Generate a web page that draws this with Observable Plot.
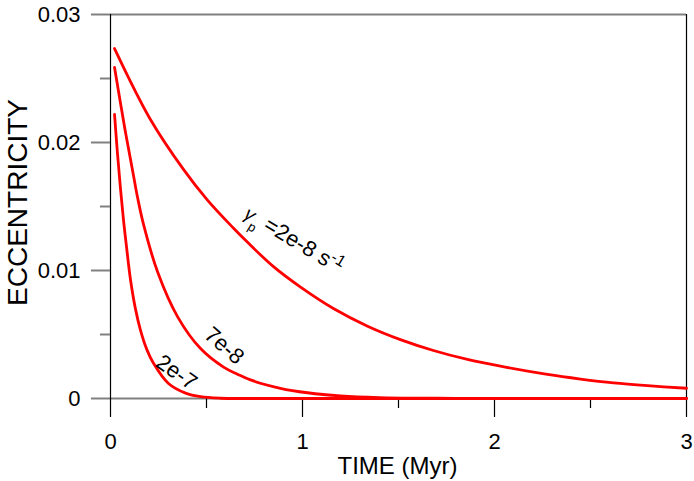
<!DOCTYPE html>
<html>
<head>
<meta charset="utf-8">
<script src="https://cdn.jsdelivr.net/npm/d3@7"></script>
<script src="https://cdn.jsdelivr.net/npm/@observablehq/plot@0.6"></script>
<style>
  html, body { margin: 0; padding: 0; background: #fff; }
  #chart { width: 694px; height: 481px; }
</style>
</head>
<body>
<div id="chart"></div>
<script>
// Curve for gamma_p = 2e-8 s^-1
const t1 = [0.021, 0.208, 0.380, 0.505, 0.641, 0.714, 0.849, 0.990, 1.161, 1.339, 1.510, 1.682, 1.859, 2.031, 2.276, 2.448, 2.620, 2.797, 3.0];
const e1 = [0.02734, 0.02180, 0.01790, 0.01550, 0.01330, 0.01220, 0.01030, 0.00870, 0.00703, 0.00565, 0.00460, 0.00375, 0.00305, 0.00252, 0.00188, 0.00152, 0.00122, 0.00100, 0.00080];
// Curve for 7e-8
const t2 = [0.021, 0.078, 0.120, 0.141, 0.172, 0.245, 0.349, 0.469, 0.589, 0.661, 0.729, 0.885, 1.026, 1.198, 1.4, 1.7, 2.0, 3.0];
const e2 = [0.02586, 0.02080, 0.01740, 0.01570, 0.01360, 0.00990, 0.00640, 0.00390, 0.00245, 0.00190, 0.00145, 0.00080, 0.00045, 0.00020, 0.00007, 0.00002, 0, 0];
// Curve for 2e-7
const t3 = [0.021, 0.036, 0.052, 0.068, 0.083, 0.104, 0.130, 0.156, 0.190, 0.224, 0.302, 0.391, 0.469, 0.573, 0.7, 1.0, 2.0, 3.0];
const e3 = [0.02219, 0.01920, 0.01640, 0.01390, 0.01190, 0.00930, 0.00700, 0.00535, 0.00380, 0.00275, 0.00117, 0.00042, 0.00014, 0.00002, 0, 0, 0, 0];

const seriesNames = ["2e-8", "7e-8", "2e-7"];
const labelText = ["γp=2e-8 s -1", "7e-8", "2e-7"];
const labelT = [0.955, 0.593, 0.344];
const labelE = [0.01240, 0.00412, 0.00205];
const labelAngle = [31, 41, 35];

const xMajor = [0, 1, 2, 3];
const xMinor = [0.5, 1.5, 2.5];
const yMajor = [0, 0.01, 0.02, 0.03];
const yMinor = [0.005, 0.015, 0.025];

const curves = [[t1, e1], [t2, e2], [t3, e3]].flatMap(([ts, es], k) =>
  ts.map((t, i) => ({series: seriesNames[k], t, e: es[i]})));
const labels = labelText.map((s, i) => ({s, t: labelT[i], e: labelE[i], a: labelAngle[i]}));

const gray = "#808080";
const font = "Liberation Sans, Arial, Helvetica, sans-serif";
const fmt = d3.format("~g");

const plot = Plot.plot({
  width: 694,
  height: 481,
  marginLeft: 110,
  marginRight: 8,
  marginTop: 14,
  marginBottom: 83,
  style: {fontFamily: font, fontSize: "22px", color: "black", background: "white"},
  x: {domain: [0, 3]},
  y: {domain: [0, 0.03]},
  marks: [
    Plot.ruleY([0, 0.03], {stroke: gray, strokeWidth: 2}),
    Plot.ruleX([0, 3], {stroke: "black", strokeWidth: 1.2}),
    Plot.axisY({ticks: yMajor, tickFormat: fmt, tickSize: 19, tickPadding: 11, stroke: gray, strokeWidth: 2, fill: "black", fontSize: 22, label: null}),
    Plot.axisY({ticks: yMinor, tickSize: 10, text: null, stroke: gray, strokeWidth: 2, label: null}),
    Plot.axisX({ticks: xMajor, tickFormat: fmt, tickSize: 19, tickPadding: 16, stroke: "black", strokeWidth: 1.2, fill: "black", fontSize: 22, label: null}),
    Plot.axisX({ticks: xMinor, tickSize: 10, text: null, stroke: "black", strokeWidth: 1.2, label: null}),
    Plot.line(curves, {x: "t", y: "e", z: "series", stroke: "#ff0000", strokeWidth: 2.8, curve: "catmull-rom"}),
    Plot.text(labels, {x: "t", y: "e", text: "s", rotate: "a", fontSize: 22, fill: "black", textAnchor: "middle", lineAnchor: "middle", className: "curve-label"}),
    Plot.text(["ECCENTRICITY"], {frameAnchor: "left", dx: -92, dy: -4, rotate: -90, fontSize: 28, fill: "black", textAnchor: "middle", lineAnchor: "middle"}),
    Plot.text(["TIME (Myr)"], {frameAnchor: "bottom", dx: -1, dy: 68, fontSize: 24, fill: "black", textAnchor: "middle", lineAnchor: "middle"})
  ]
});

// Typeset the gamma_p label with subscript / superscript
d3.select(plot).selectAll("g.curve-label text").each(function() {
  const el = d3.select(this);
  if (el.text().startsWith("γp")) {
    el.text(null);
    el.append("tspan").attr("font-size", 19).attr("font-style", "italic").text("γ");
    el.append("tspan").attr("font-size", 13).attr("baseline-shift", "sub").text("p");
    el.append("tspan").text(" =2e-8 s");
    el.append("tspan").attr("font-size", 16).attr("baseline-shift", "super").text("-1");
  }
});

document.getElementById("chart").appendChild(plot);
</script>
</body>
</html>
